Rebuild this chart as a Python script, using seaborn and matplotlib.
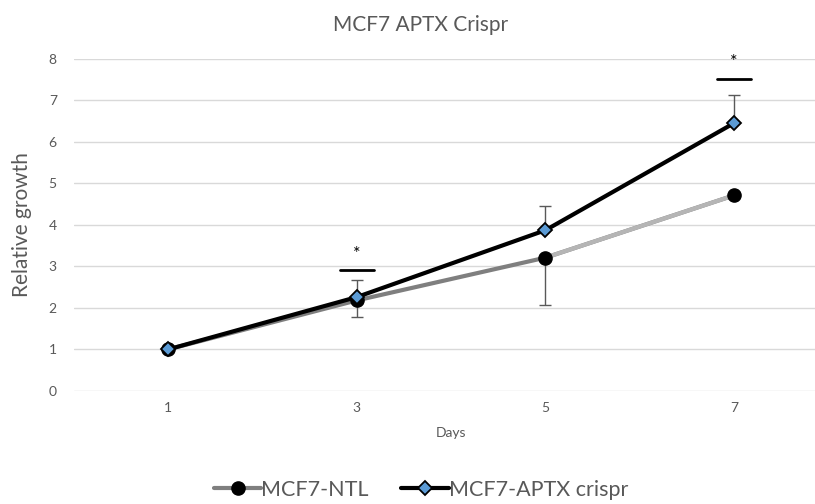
import numpy as np
import pandas as pd
import matplotlib
matplotlib.use("Agg")
import matplotlib.pyplot as plt
from matplotlib.lines import Line2D
import seaborn as sns

# data
days = ["1", "3", "5", "7"]
ntl = [1.0, 2.18, 3.21, 4.71]
crispr = [1.0, 2.26, 3.87, 6.45]
ntl_err_low = [0.0, 0.40, 1.13, 0.0]
crispr_err_up = [0.0, 0.41, 0.59, 0.68]
sig_idx = [1, 3]
sig_bar_y = [2.91, 7.52]
sig_star_y = [3.30, 7.93]

txt = "#595959"
sns.set_theme(style="white")
plt.rcParams["font.family"] = ["Lato", "DejaVu Sans"]

fig = plt.figure(figsize=(8.15, 5.04), dpi=100)
ax = fig.add_axes([73.5 / 815, 1 - 391 / 504, 755 / 815, (391 - 58.7) / 504])

pos = np.arange(len(days))
df = pd.DataFrame({"pos": pos, "ntl": ntl, "crispr": crispr})

# NTL line: darker gray first segments, lighter last segment
sns.lineplot(data=df, x="pos", y="ntl", ax=ax, color="#7f7f7f", linewidth=3.0,
             zorder=2, legend=False)
ax.plot(pos[2:], ntl[2:], color="#b5b5b5", linewidth=3.0, zorder=2.1,
        solid_capstyle="butt")
ax.errorbar(pos, ntl, yerr=[ntl_err_low, [0] * len(ntl)], fmt="none",
            ecolor="#595959", elinewidth=1.0, capsize=4, capthick=1.0, zorder=3)
ax.plot(pos, ntl, linestyle="none", marker="o", markersize=9.5,
        color="black", zorder=4)

# crispr line
sns.lineplot(data=df, x="pos", y="crispr", ax=ax, color="black", linewidth=3.0,
             zorder=5, legend=False)
ax.errorbar(pos, crispr, yerr=[[0] * len(crispr), crispr_err_up], fmt="none",
            ecolor="#595959", elinewidth=1.0, capsize=4, capthick=1.0, zorder=5.5)
ax.plot(pos, crispr, linestyle="none", marker="D", markersize=7,
        markerfacecolor="#5b9bd5", markeredgecolor="black",
        markeredgewidth=1.3, zorder=6)

# significance marks
for i, by, sy in zip(sig_idx, sig_bar_y, sig_star_y):
    ax.plot([pos[i] - 0.09, pos[i] + 0.09], [by, by], color="black",
            linewidth=2.0, zorder=7)
    ax.text(pos[i], sy, "*", ha="center", va="center", fontsize=13,
            color="black", zorder=7)

ax.set_xlim(-0.5, len(days) - 0.5)
ax.set_ylim(0, 8)
ax.set_yticks(range(0, 9))
ax.set_xticks(pos)
ax.set_xticklabels(days)
ax.yaxis.grid(True, color="#d9d9d9", linewidth=1.0)
ax.xaxis.grid(False)
ax.set_axisbelow(True)
for s in ax.spines.values():
    s.set_visible(False)
ax.tick_params(axis="both", length=0, labelsize=10, colors=txt)
ax.tick_params(axis="y", pad=12)
ax.tick_params(axis="x", pad=8)

ax.set_xlabel("Days", fontsize=10, color=txt, labelpad=9)
ax.set_ylabel("Relative growth", fontsize=15, color=txt, labelpad=12)
fig.text(421 / 815, 1 - 25 / 504, "MCF7 APTX Crispr", ha="center",
         va="center", fontsize=15, color=txt)

handles = [
    Line2D([], [], color="#7f7f7f", linewidth=3, marker="o", markersize=9.5,
           markerfacecolor="black", markeredgecolor="black"),
    Line2D([], [], color="black", linewidth=3, marker="D", markersize=7,
           markerfacecolor="#5b9bd5", markeredgecolor="black",
           markeredgewidth=1.3),
]
fig.legend(handles, ["MCF7-NTL", "MCF7-APTX crispr"], loc="center",
           bbox_to_anchor=(421 / 815, 1 - 490 / 504), ncol=2, frameon=False,
           fontsize=15.5, labelcolor=txt, handlelength=2.2, handletextpad=0.0,
           columnspacing=1.5)

fig.savefig("out.png", dpi=100)
